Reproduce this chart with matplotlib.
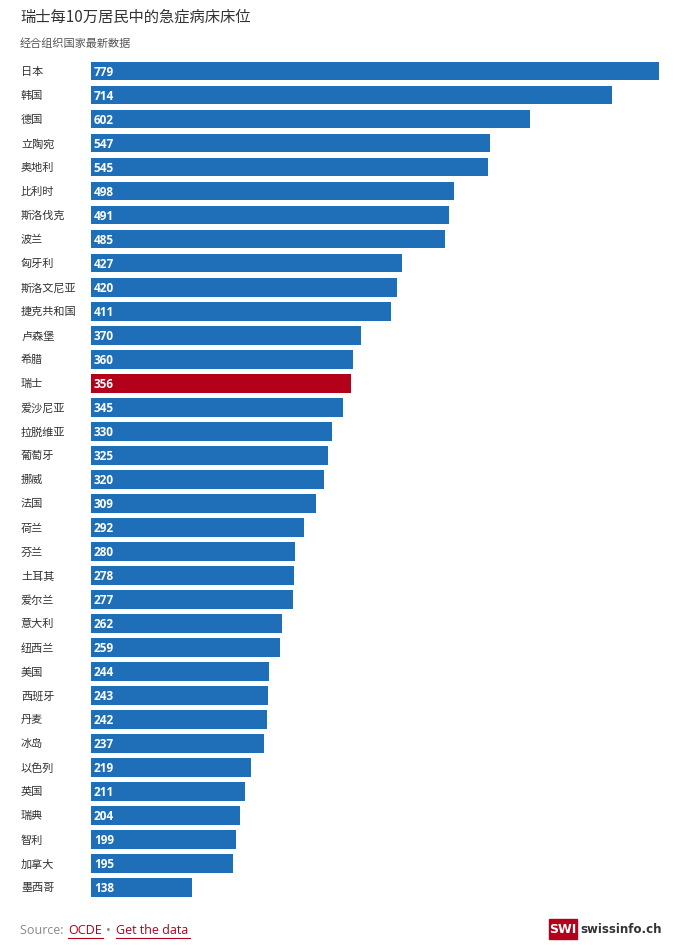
import matplotlib.pyplot as plt
from matplotlib import font_manager
from matplotlib.patches import Rectangle

cjk = [f.name for f in font_manager.fontManager.ttflist if "CJK" in f.name]
cjk_font = "Noto Sans CJK SC" if "Noto Sans CJK SC" in cjk else (cjk[0] if cjk else "DejaVu Sans")
plt.rcParams["font.family"] = [cjk_font, "DejaVu Sans"]

countries = ["日本", "韩国", "德国", "立陶宛", "奥地利", "比利时", "斯洛伐克", "波兰", "匈牙利",
             "斯洛文尼亚", "捷克共和国", "卢森堡", "希腊", "瑞士", "爱沙尼亚", "拉脱维亚", "葡萄牙",
             "挪威", "法国", "荷兰", "芬兰", "土耳其", "爱尔兰", "意大利", "纽西兰", "美国", "西班牙",
             "丹麦", "冰岛", "以色列", "英国", "瑞典", "智利", "加拿大", "墨西哥"]
beds = [779, 714, 602, 547, 545, 498, 491, 485, 427, 420, 411, 370, 360, 356, 345, 330, 325,
        320, 309, 292, 280, 278, 277, 262, 259, 244, 243, 242, 237, 219, 211, 204, 199, 195, 138]

W, H = 683, 953
fig = plt.figure(figsize=(W / 100, H / 100), dpi=100)
n = len(countries)
top, bottom = 60, 900.5
ax = fig.add_axes([91 / W, 1 - bottom / H, (659 - 91) / W, (bottom - top) / H])
colors = ["#b3001b" if c == "瑞士" else "#1f6fb8" for c in countries]
ax.barh(range(n), beds, height=0.78, color=colors)
ax.set_xlim(0, max(beds))
ax.set_ylim(n - 0.5, -0.5)
ax.axis("off")
for i, (c, v) in enumerate(zip(countries, beds)):
    ax.text(4, i, str(v), color="white", fontsize=8.5, fontweight="bold", va="center", ha="left",
            family="Open Sans")
    ax.text(-70 / 568 * max(beds), i, c, color="#333333", fontsize=8, va="center", ha="left")

fig.text(20 / W, 1 - 17 / H, "瑞士每10万居民中的急症病床床位", fontsize=11, color="#333333", va="center")
fig.text(20 / W, 1 - 44 / H, "经合组织国家最新数据", fontsize=8, color="#555555", va="center")
fig.text(20 / W, 1 - 931 / H, "Source: ", fontsize=9, color="#888888", va="center",
         family="Open Sans")
fig.text(68 / W, 1 - 931 / H, "OCDE", fontsize=9, color="#b3001b", va="center", family="Open Sans")
fig.text(106 / W, 1 - 931 / H, "•", fontsize=9, color="#888888", va="center", family="Open Sans")
fig.text(116 / W, 1 - 931 / H, "Get the data", fontsize=9, color="#b3001b", va="center",
         family="Open Sans")
fig.add_artist(plt.Line2D([68 / W, 103 / W], [1 - 939 / H] * 2, color="#b3001b", lw=0.8))
fig.add_artist(plt.Line2D([116 / W, 190 / W], [1 - 939 / H] * 2, color="#b3001b", lw=0.8))
fig.add_artist(Rectangle((549 / W, 1 - 940 / H), 28 / W, 20 / H, color="#b3001b",
                         transform=fig.transFigure))
fig.text(563 / W, 1 - 930 / H, "SWI", fontsize=9, color="white", fontweight="bold",
         ha="center", va="center", family="DejaVu Sans")
fig.text(580 / W, 1 - 930 / H, "swissinfo.ch", fontsize=8.5, color="#333333", fontweight="bold",
         va="center", family="DejaVu Sans")
fig.savefig("out.png", dpi=100)
